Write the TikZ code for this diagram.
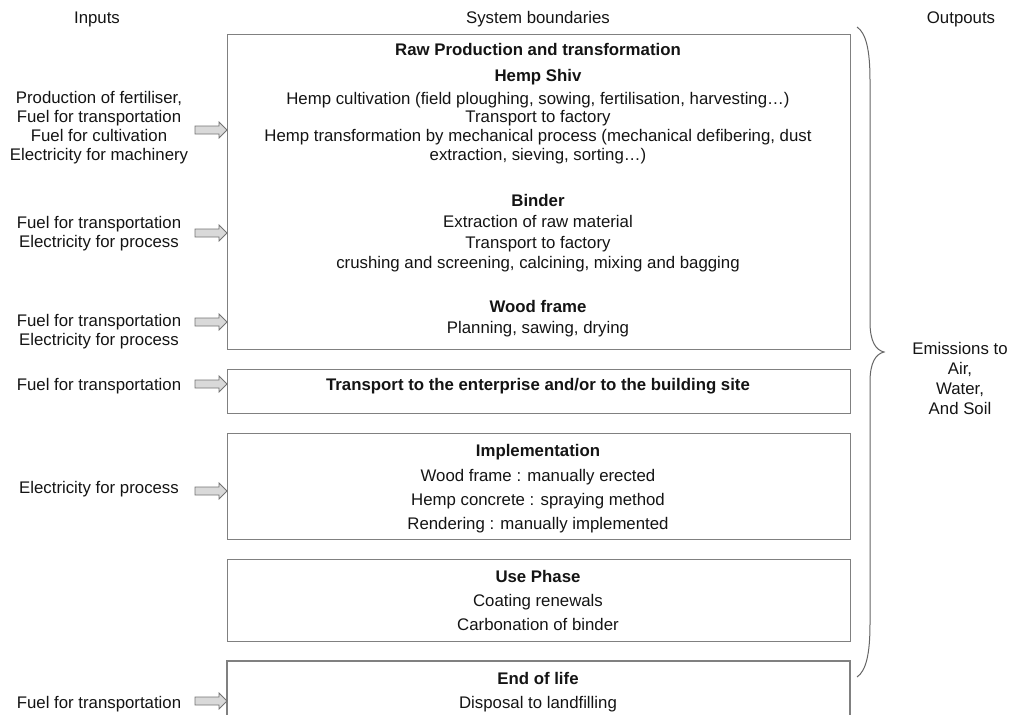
\documentclass[tikz,border=0pt]{standalone}
\usepackage{fontspec}
\setmainfont{Liberation Sans}
\begin{document}
\begin{tikzpicture}[x=1pt,y=-1pt,
  txt/.style={anchor=base,inner sep=0pt,font=\fontsize{16.8}{19}\selectfont,text=black!92},
  ttl/.style={txt,font=\fontsize{16.8}{19}\selectfont\bfseries},
  box/.style={draw=black!50,line width=1.3pt,anchor=north west,inner sep=0pt},
  openbox/.style={draw=black!50,line width=1.3pt},
  barrow/.style={draw=black!55,fill=black!15,line width=0.8pt,line join=miter},
  bracestyle/.style={draw=black!60,line width=1pt}]
\useasboundingbox (0,0) rectangle (1010,715);

% headers
\node[txt] (hin) at (97,23) {Inputs};
\node[txt] (hsys) at (538,23) {System boundaries};
\node[txt] (hout) at (961,23) {Outpouts};

% boxes
\node[box,minimum width=623pt,minimum height=315pt] (b1) at (227,34) {};
\node[box,minimum width=623pt,minimum height=44pt] (b2) at (227,369) {};
\node[box,minimum width=623pt,minimum height=106pt] (b3) at (227,433) {};
\node[box,minimum width=623pt,minimum height=82pt] (b4) at (227,559) {};
\coordinate (b5sw) at (227,722);
\coordinate (b5nw) at (227,661);
\coordinate (b5ne) at (850,661);
\coordinate (b5se) at (850,722);
\draw[openbox] (b5sw) -- (b5nw) -- (b5ne) -- (b5se);

% box 1 text
\node[ttl] (t1) at (538,55) {Raw Production and transformation};
\node[ttl] (t2) at (538,81) {Hemp Shiv};
\node[txt] (t3) at (538,104) {Hemp cultivation (field ploughing, sowing, fertilisation, harvesting\dots)};
\node[txt] (t4) at (538,122) {Transport to factory};
\node[txt] (t5) at (538,141) {Hemp transformation by mechanical process (mechanical defibering, dust};
\node[txt] (t6) at (538,160) {extraction, sieving, sorting\dots)};
\node[ttl] (t7) at (538,206) {Binder};
\node[txt] (t8) at (538,227) {Extraction of raw material};
\node[txt] (t9) at (538,248) {Transport to factory};
\node[txt] (t10) at (538,268) {crushing and screening, calcining, mixing and bagging};
\node[ttl] (t11) at (538,312) {Wood frame};
\node[txt] (t12) at (538,333) {Planning, sawing, drying};
% box 2
\node[ttl] (t13) at (538,390) {Transport to the enterprise and/or to the building site};
% box 3
\node[ttl] (t14) at (538,456) {Implementation};
\node[txt] (t15) at (538,481) {Wood frame : manually erected};
\node[txt] (t16) at (538,505) {Hemp concrete : spraying method};
\node[txt] (t17) at (538,529) {Rendering : manually implemented};
% box 4
\node[ttl] (t18) at (538,582) {Use Phase};
\node[txt] (t19) at (538,606) {Coating renewals};
\node[txt] (t20) at (538,630) {Carbonation of binder};
% box 5
\node[ttl] (t21) at (538,684) {End of life};
\node[txt] (t22) at (538,708) {Disposal to landfilling};

% inputs
\node[txt] (i1) at (99,103) {Production of fertiliser,};
\node[txt] (i2) at (99,122) {Fuel for transportation};
\node[txt] (i3) at (99,141) {Fuel for cultivation};
\node[txt] (i4) at (99,160) {Electricity for machinery};
\node[txt] (i5) at (99,228) {Fuel for transportation};
\node[txt] (i6) at (99,247) {Electricity for process};
\node[txt] (i7) at (99,326) {Fuel for transportation};
\node[txt] (i8) at (99,345) {Electricity for process};
\node[txt] (i9) at (99,390) {Fuel for transportation};
\node[txt] (i10) at (99,493) {Electricity for process};
\node[txt] (i11) at (99,708) {Fuel for transportation};

% block arrows
\foreach \yy in {130,233,322,384,491,701} {
  \draw[barrow] (195,{\yy-4}) -- (219,{\yy-4}) -- (219,{\yy-8}) -- (227,\yy)
    -- (219,{\yy+8}) -- (219,{\yy+4}) -- (195,{\yy+4}) -- cycle;
}

% brace
\coordinate (brtop) at (857,27);
\coordinate (brtip) at (884,352);
\coordinate (brbot) at (857,677);
\draw[bracestyle] (brtop) .. controls (866,33) and (870,50) .. (870,80)
  -- (870,322) .. controls (870,342) and (876,350) .. (brtip)
  .. controls (876,354) and (870,362) .. (870,382)
  -- (870,624) .. controls (870,654) and (866,671) .. (brbot);

% outputs
\node[txt] (o1) at (960,354) {Emissions to};
\node[txt] (o2) at (960,374) {Air,};
\node[txt] (o3) at (960,394) {Water,};
\node[txt] (o4) at (960,414) {And Soil};
\end{tikzpicture}
\end{document}
